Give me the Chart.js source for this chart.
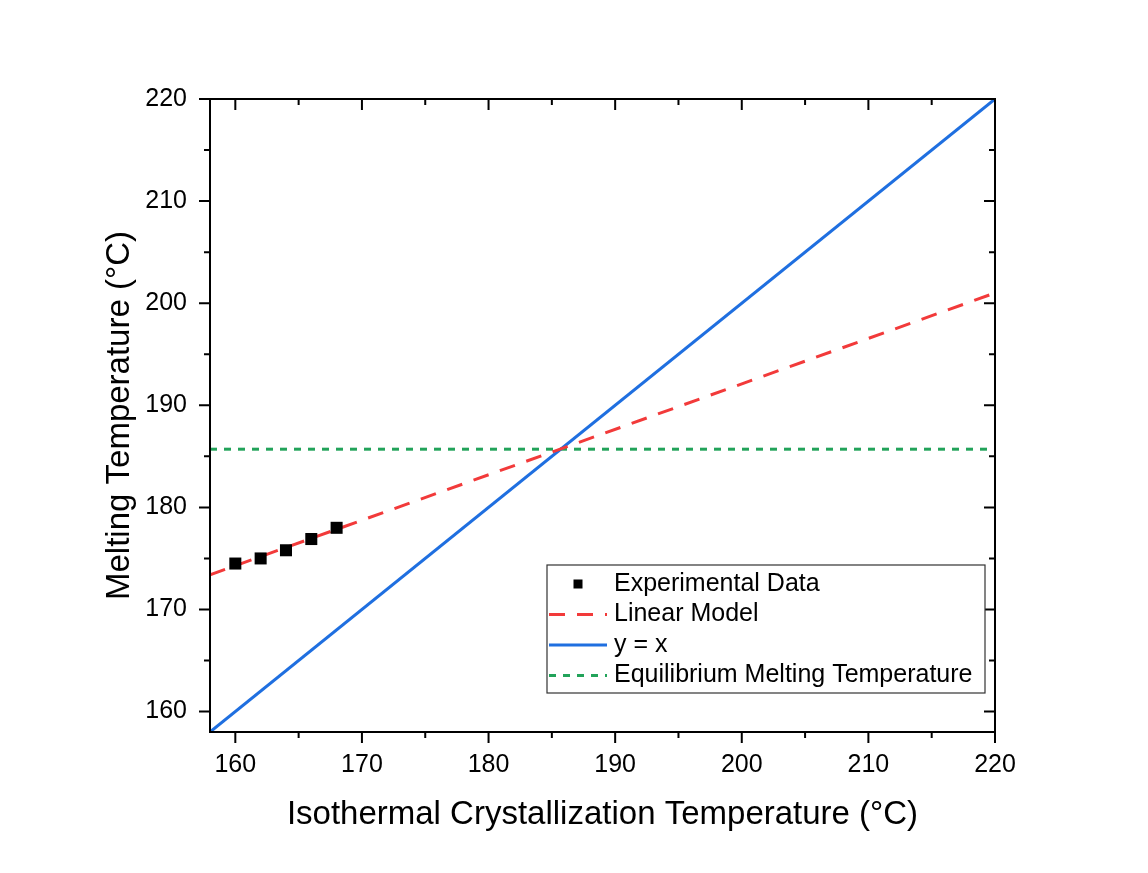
<!DOCTYPE html>
<html>
<head>
<meta charset="utf-8">
<script src="https://cdn.jsdelivr.net/npm/chart.js@4/dist/chart.umd.min.js"></script>
<style>
    html, body { margin: 0; padding: 0; background: #fff; }
    #wrap { width: 1148px; height: 873px; }
</style>
</head>
<body>
<div id="wrap"><canvas id="chartMelt"></canvas></div>
<script>
// values
var expX = [160, 162, 164, 166, 168];
var expY = [174.5, 175.0, 175.8, 176.9, 178.0];

var linX = [158, 220];
var linY = [173.4, 201.0];

var idX = [158, 220];
var idY = [158, 220];

var eqX = [158, 220];
var eqY = [185.7, 185.7];

var xTicks = [160, 170, 180, 190, 200, 210, 220];
var yTicks = [160, 170, 180, 190, 200, 210, 220];

function pts(xs, ys) {
    return xs.map(function (x, i) { return { x: x, y: ys[i] }; });
}

var red = '#f23a3a';
var blue = '#1f6fe0';
var green = '#22a35a';
var font = '"Liberation Sans", Arial, sans-serif';

// frame + major/minor ticks (outward bottom/left, inward top/right)
var frameTicks = {
    id: 'frameTicks',
    afterDraw: function (chart) {
        var ctx = chart.ctx, a = chart.chartArea;
        var xs = chart.scales.x, ys = chart.scales.y;
        ctx.save();
        ctx.strokeStyle = '#000';
        ctx.lineWidth = 2;
        ctx.strokeRect(a.left, a.top, a.right - a.left, a.bottom - a.top);
        var v, p, len;
        for (v = 160; v <= 220; v += 5) {
            len = v % 10 === 0 ? 11 : 6;
            p = xs.getPixelForValue(v);
            ctx.beginPath();
            ctx.moveTo(p, a.bottom); ctx.lineTo(p, a.bottom + len);
            ctx.moveTo(p, a.top); ctx.lineTo(p, a.top + len);
            ctx.stroke();
            p = ys.getPixelForValue(v);
            ctx.beginPath();
            ctx.moveTo(a.left, p); ctx.lineTo(a.left - len, p);
            ctx.moveTo(a.right, p); ctx.lineTo(a.right - len, p);
            ctx.stroke();
        }
        ctx.restore();
    }
};

// legend box drawn inside the plot area
var innerLegend = {
    id: 'innerLegend',
    afterDraw: function (chart) {
        var ctx = chart.ctx;
        var x0 = 547, y0 = 565, w = 438, h = 128, row = 30.5;
        ctx.save();
        ctx.fillStyle = '#fff';
        ctx.fillRect(x0, y0, w, h);
        ctx.strokeStyle = '#333';
        ctx.lineWidth = 1.2;
        ctx.strokeRect(x0, y0, w, h);
        ctx.font = '25px ' + font;
        ctx.textBaseline = 'middle';
        chart.data.datasets.forEach(function (ds, i) {
            var cy = y0 + 19 + i * row;
            if (ds.showLine === false) {
                ctx.fillStyle = '#000';
                ctx.fillRect(578 - 4.5, cy - 4.5, 9, 9);
            } else {
                ctx.strokeStyle = ds.borderColor;
                ctx.lineWidth = ds.borderWidth;
                ctx.setLineDash(ds.borderDash || []);
                ctx.beginPath();
                ctx.moveTo(x0 + 2, cy); ctx.lineTo(x0 + 60, cy);
                ctx.stroke();
                ctx.setLineDash([]);
            }
            ctx.fillStyle = '#000';
            ctx.fillText(ds.label, 614, cy);
        });
        ctx.restore();
    }
};

new Chart(document.getElementById('chartMelt'), {
    type: 'scatter',
    data: {
        datasets: [
            {
                label: 'Experimental Data',
                data: pts(expX, expY),
                showLine: false,
                pointStyle: 'rect',
                pointRadius: 8.5,
                backgroundColor: '#000',
                borderColor: '#000',
                borderWidth: 0,
            },
            {
                label: 'Linear Model',
                data: pts(linX, linY),
                showLine: true,
                borderColor: red,
                borderWidth: 3,
                borderDash: [16, 12],
                pointRadius: 0,
            },
            {
                label: 'y = x',
                data: pts(idX, idY),
                showLine: true,
                borderColor: blue,
                borderWidth: 3,
                pointRadius: 0,
            },
            {
                label: 'Equilibrium Melting Temperature',
                data: pts(eqX, eqY),
                showLine: true,
                borderColor: green,
                borderWidth: 3,
                borderDash: [7, 7],
                pointRadius: 0,
            },
        ],
    },
    options: {
        responsive: true,
        maintainAspectRatio: false,
        animation: false,
        layout: { padding: { top: 99, right: 153, left: 0, bottom: 0 } },
        plugins: { legend: { display: false }, tooltip: { enabled: false } },
        scales: {
            x: {
                type: 'linear',
                min: 158,
                max: 220,
                afterBuildTicks: function (s) { s.ticks = xTicks.map(function (v) { return { value: v }; }); },
                afterFit: function (s) { s.height = 141; },
                grid: { display: false },
                border: { display: false },
                ticks: { color: '#000', font: { family: font, size: 25 }, padding: 10 },
                title: {
                    display: true,
                    text: 'Isothermal Crystallization Temperature (°C)',
                    color: '#000',
                    font: { family: font, size: 33 },
                    padding: { top: 38, bottom: 38 },
                },
            },
            y: {
                type: 'linear',
                min: 158,
                max: 220,
                afterBuildTicks: function (s) { s.ticks = yTicks.map(function (v) { return { value: v }; }); },
                afterFit: function (s) { s.width = 210; },
                grid: { display: false },
                border: { display: false },
                ticks: { color: '#000', font: { family: font, size: 25 }, padding: 15 },
                title: {
                    display: true,
                    text: 'Melting Temperature (°C)',
                    color: '#000',
                    font: { family: font, size: 33 },
                    padding: { top: 100, bottom: 100 },
                },
            },
        },
    },
    plugins: [frameTicks, innerLegend],
});
</script>
</body>
</html>
